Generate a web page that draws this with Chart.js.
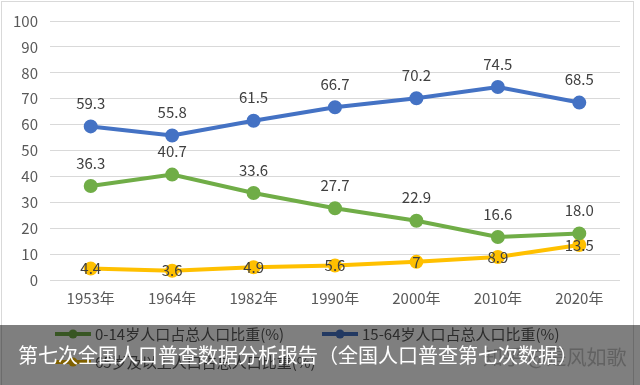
<!DOCTYPE html>
<html>
<head>
<meta charset="utf-8">
<script src="https://cdn.jsdelivr.net/npm/chart.js@4/dist/chart.umd.min.js"></script>
<style>
  html, body { margin: 0; padding: 0; background: #fff; }
  #wrap { position: relative; width: 640px; height: 385px; overflow: hidden; font-family: "Noto Sans CJK SC", sans-serif; }
  #c { position: absolute; left: 0; top: 0; }
  #wm { position: absolute; left: 483px; top: 342px; font-size: 20px; color: #c4c4c4; white-space: nowrap; letter-spacing: 0px; }
  #band { position: absolute; left: 0; top: 325px; width: 640px; height: 60px; background: rgba(0,0,0,0.5); }
  #cap { position: absolute; left: 18px; top: 341px; font-size: 20px; line-height: 28px; color: #fff; white-space: nowrap; }
</style>
</head>
<body>
<div id="wrap">
  <canvas id="c" width="640" height="385"></canvas>
  <div id="wm">知乎 @是风如歌</div>
  <div id="band"></div>
  <div id="cap">第七次全国人口普查数据分析报告（全国人口普查第七次数据）</div>
</div>
<script>
const categories = ['1953年','1964年','1982年','1990年','2000年','2010年','2020年'];
const seriesNames = ['0-14岁人口占总人口比重(%)', '15-64岁人口占总人口比重(%)', '65岁及以上人口占总人口比重(%)'];
const age0to14 = [36.3, 40.7, 33.6, 27.7, 22.9, 16.6, 18.0];
const age15to64 = [59.3, 55.8, 61.5, 66.7, 70.2, 74.5, 68.5];
const age65plus = [4.4, 3.6, 4.9, 5.6, 7, 8.9, 13.5];
const yTicks = [0, 10, 20, 30, 40, 50, 60, 70, 80, 90, 100];

const FONT = '"Noto Sans CJK SC", sans-serif';

const labelPlugin = {
  id: 'valueLabels',
  afterDatasetsDraw(chart) {
    const ctx = chart.ctx;
    ctx.save();
    ctx.font = '15px ' + FONT;
    ctx.fillStyle = '#404040';
    ctx.textAlign = 'center';
    ctx.textBaseline = 'middle';
    chart.data.datasets.forEach((ds, i) => {
      const meta = chart.getDatasetMeta(i);
      meta.data.forEach((pt, j) => {
        const v = ds.data[j];
        const txt = ds.fixedDecimals ? v.toFixed(1) : String(v);
        ctx.fillText(txt, pt.x, pt.y + ds.labelOffset);
      });
    });
    ctx.restore();
  },
  afterDraw(chart) {
    const ctx = chart.ctx;
    ctx.save();
    // border
    ctx.strokeStyle = '#d9d9d9';
    ctx.lineWidth = 1;
    ctx.strokeRect(1.5, 1.5, 632, 390);
    // legend
    const pos = [[55, 334], [322, 334], [55, 362]];
    ctx.font = '15px ' + FONT;
    ctx.textBaseline = 'middle';
    ctx.textAlign = 'left';
    chart.data.datasets.forEach((ds, i) => {
      const [x, y] = pos[i];
      ctx.strokeStyle = ds.borderColor;
      ctx.lineWidth = 4;
      ctx.beginPath();
      ctx.moveTo(x, y);
      ctx.lineTo(x + 36, y);
      ctx.stroke();
      ctx.fillStyle = ds.borderColor;
      ctx.beginPath();
      ctx.arc(x + 18, y, 4.5, 0, Math.PI * 2);
      ctx.fill();
      ctx.fillStyle = '#595959';
      ctx.fillText(ds.label, x + 40, y);
    });
    ctx.restore();
  }
};

const mk = (label, data, color, offset, fixed) => ({
  label, data,
  borderColor: color, backgroundColor: color,
  pointBackgroundColor: color, pointBorderColor: color,
  borderWidth: 4, pointRadius: 5, pointHoverRadius: 5,
  tension: 0, labelOffset: offset, fixedDecimals: fixed
});

new Chart(document.getElementById('c'), {
  type: 'line',
  data: {
    labels: categories,
    datasets: [
      mk(seriesNames[0], age0to14, '#70AD47', -23, true),
      mk(seriesNames[1], age15to64, '#4472C4', -23, true),
      mk(seriesNames[2], age65plus, '#FFC000', 0, false)
    ]
  },
  options: {
    responsive: false,
    animation: false,
    layout: { padding: { top: 20, right: 20, bottom: 80, left: 0 } },
    plugins: { legend: { display: false }, tooltip: { enabled: false } },
    scales: {
      x: {
        offset: true,
        grid: { display: false, drawTicks: false },
        border: { display: false },
        ticks: { color: '#595959', font: { size: 15, family: FONT }, padding: 9, maxRotation: 0 },
        afterFit(s) { s.height = 25; }
      },
      y: {
        min: 0, max: 100,
        afterBuildTicks(s) { s.ticks = yTicks.map(v => ({ value: v })); },
        grid: { color: '#d9d9d9', lineWidth: 1, drawTicks: false },
        border: { display: false },
        ticks: { color: '#595959', font: { size: 15, family: FONT }, padding: 12 },
        afterFit(s) { s.width = 50; }
      }
    }
  },
  plugins: [labelPlugin]
});
</script>
</body>
</html>
